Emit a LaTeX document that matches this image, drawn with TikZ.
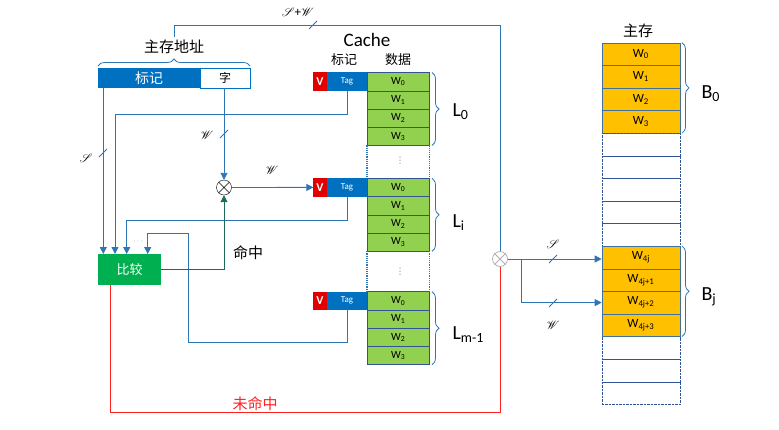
\documentclass[tikz,border=0pt]{standalone}
\usepackage{fontspec}
\setmainfont{Carlito}
\newfontfamily\cjk{Noto Sans CJK SC}
\newfontfamily\symfont{DejaVu Sans}
\usepackage{mathrsfs}
\usetikzlibrary{decorations.pathreplacing,arrows.meta}
\newcommand\fsz[1]{\fontsize{#1}{#1}\selectfont}
\definecolor{lineblue}{HTML}{2E75B6}
\definecolor{tagblue}{HTML}{0070C0}
\definecolor{vred}{HTML}{E00000}
\definecolor{datagreen}{HTML}{92D050}
\definecolor{memorange}{HTML}{FFC000}
\definecolor{cmpgreen}{HTML}{00B050}
\definecolor{hitgreen}{HTML}{1E6B5A}
\definecolor{missred}{HTML}{FF2020}
\definecolor{cellline}{HTML}{2F5597}
\definecolor{memline}{HTML}{41719C}
\tikzset{
  link/.style={draw=lineblue, line width=0.9pt},
  flow/.style={link, -{Triangle[length=7pt,width=7pt]}},
  tick/.style={draw=lineblue, line width=0.8pt},
  cell/.style={inner sep=0pt, outer sep=0pt, minimum height=18.25pt},
  vbox/.style={cell, fill=vred, text=white, minimum width=13.4pt, font=\fsz{12}\bfseries},
  tagbox/.style={cell, fill=tagblue, text=white, minimum width=40pt, font=\fsz{9}},
  datacell/.style={cell, draw=cellline, fill=datagreen, minimum width=62.6pt, font=\fsz{11}},
  memcell/.style={cell, draw=memline, fill=memorange, minimum width=78.3pt, minimum height=22.6pt, font=\fsz{12.5}},
  freecell/.style={cell, draw=cellline, densely dotted, minimum width=78.3pt, minimum height=22.6pt},
  mux/.style={circle, draw, minimum size=15pt, inner sep=0pt},
  brace/.style={draw=lineblue, line width=0.8pt, decorate, decoration={brace, amplitude=7pt}},
  blocklabel/.style={anchor=west, font=\fsz{20}},
  cjklabel/.style={font=\cjk\fsz{15}},
  gapdots/.style={gray, inner sep=0pt, font=\symfont\fsz{9}},
  scr/.style={font=\fsz{13}}
}
\begin{document}
\begin{tikzpicture}[x=1pt,y=-1pt]
\useasboundingbox (0,0) rectangle (779,429);

% main memory address
\node[cjklabel] (addr) at (174,47) {主存地址};
\node[cell, fill=tagblue, text=white, minimum width=102pt, minimum height=20pt, font=\cjk\fsz{14}] (atag) at (149,78) {标记};
\node[cell, draw=tagblue, fill=white, minimum width=50pt, minimum height=20pt, font=\cjk\fsz{12}] (aword) at (225,78) {字};
\draw[brace] (98,66) -- (250,66);

% cache
\node[font=\fsz{19}] (cache) at (367,40) {Cache};
\node[font=\cjk\fsz{13}] (htag) at (344,60) {标记};
\node[font=\cjk\fsz{13}] (hdata) at (398,60) {数据};
\foreach \b/\t in {0/72.5, i/178.3, m/291.7}{
  \node[vbox] (v\b) at (320,{\t+9.1}) {V};
  \node[tagbox] (t\b) at (347,{\t+9.1}) {Tag};
  \foreach \k in {0,...,3}
    \node[datacell] (d\b\k) at (398.3,{\t+9.1+\k*18.25}) {W\textsubscript{\k}};
}
\foreach \u/\l in {d03/di0, di3/dm0}{
  \draw[lineblue, line width=1.2pt, densely dotted] (\u.south west) -- (\l.north west);
  \draw[lineblue, line width=1.2pt, densely dotted] (\u.south east) -- (\l.north east);
}
\node[gapdots] (gap1) at (400,161) {⋮};
\node[gapdots] (gap2) at (400,272) {⋮};
\draw[brace] (432,72.5) -- (432,145.5);
\draw[brace] (432,178.3) -- (432,251.3);
\draw[brace] (432,291.7) -- (432,364.7);
\node[blocklabel] (l0) at (449,112) {L\textsubscript{0}};
\node[blocklabel] (li) at (449,223) {L\textsubscript{i}};
\node[blocklabel] (lm) at (449,335) {L\textsubscript{m-1}};

% main memory
\node[cjklabel] (mem) at (638,31) {主存};
\foreach \k in {0,...,3}
  \node[memcell] (m\k) at (640.85,{54+\k*22.6}) {W\textsubscript{\k}};
\foreach \k in {4,...,8,13,14,15}
  \node[freecell] (m\k) at (640.85,{54+\k*22.6}) {};
\node[memcell] (m9) at (640.85,{54+9*22.6}) {W\textsubscript{4j}};
\node[memcell] (m10) at (640.85,{54+10*22.6}) {W\textsubscript{4j+1}};
\node[memcell] (m11) at (640.85,{54+11*22.6}) {W\textsubscript{4j+2}};
\node[memcell] (m12) at (640.85,{54+12*22.6}) {W\textsubscript{4j+3}};
\draw[brace] (m0.north east) ++(2,0) -- ++(0,90.4);
\draw[brace] (m9.north east) ++(2,0) -- ++(0,90.4);
\node[blocklabel] (b0) at (698,94) {B\textsubscript{0}};
\node[blocklabel] (bj) at (698,297) {B\textsubscript{j}};

% comparator and selectors
\node[cell, fill=cmpgreen, text=white, minimum width=62.4pt, minimum height=31pt, font=\cjk\fsz{13}] (cmp) at (129.5,269.5) {比较};
\node[mux, draw=black] (mul) at (224,187.5) {};
\draw (mul.north west) -- (mul.south east) (mul.north east) -- (mul.south west);
\node[mux, draw=gray!60, line width=0.8pt] (sel) at (500,259) {};
\draw[gray!60, line width=0.8pt] (sel.north west) -- (sel.south east) (sel.north east) -- (sel.south west);
\coordinate (in1) at (103.3,254);
\coordinate (in2) at (115,254);
\coordinate (in3) at (126.7,254);
\coordinate (in4) at (147.7,254);
\node[gray, font=\fsz{8}] (more) at (138,242) {$\cdots$};

% connectors
\draw[link] (addr.north) -- ++(0,-11) -| (sel.north);
\draw[tick] (309,29) -- (317,21);
\node[scr] (sw) at (298,12) {$\mathscr{S}$+$\mathscr{W}$};
\draw[flow] (in1 |- atag.south) -- (in1);
\draw[tick] (99,157) -- (107,149);
\node[scr] (s1) at (86,158) {$\mathscr{S}$};
\draw[flow] (t0.south) -- ++(0,23.3) -| (in2);
\draw[flow] (ti.south) -- ++(0,24) -| (in3);
\draw[flow] (tm.south) -- ++(0,33) -| ++(-159,-109) -| (in4);
\draw[flow] (mul |- aword.south) -- (mul.north);
\draw[tick] (220,138) -- (228,130);
\node[scr] (w1) at (207,135) {$\mathscr{W}$};
\draw[flow] (mul.east) -- (vi.west);
\node[scr] (w2) at (272,170) {$\mathscr{W}$};
\draw[draw=hitgreen, line width=0.9pt, -{Triangle[length=7pt,width=7pt]}] (cmp.east) -| (mul.south);
\node[cjklabel] (hit) at (248,253) {命中};
\draw[missred, line width=0.8pt] (sel.south) -- ++(0,145) -| ([xshift=-19.5pt]cmp.south);
\node[cjklabel, missred, fill=white, inner sep=1pt] (miss) at (255,404) {未命中};
\draw[flow] (sel.east) -- (sel.east -| m9.west);
\path (sel.east) ++(13.5,0) coordinate (br);
\draw[flow] (br) |- (m11.west);
\draw[tick] (549,263) -- (557,255);
\node[scr] (s2) at (553,244) {$\mathscr{S}$};
\draw[tick] (549,307) -- (557,299);
\node[scr] (w3) at (553,325) {$\mathscr{W}$};
\end{tikzpicture}
\end{document}
